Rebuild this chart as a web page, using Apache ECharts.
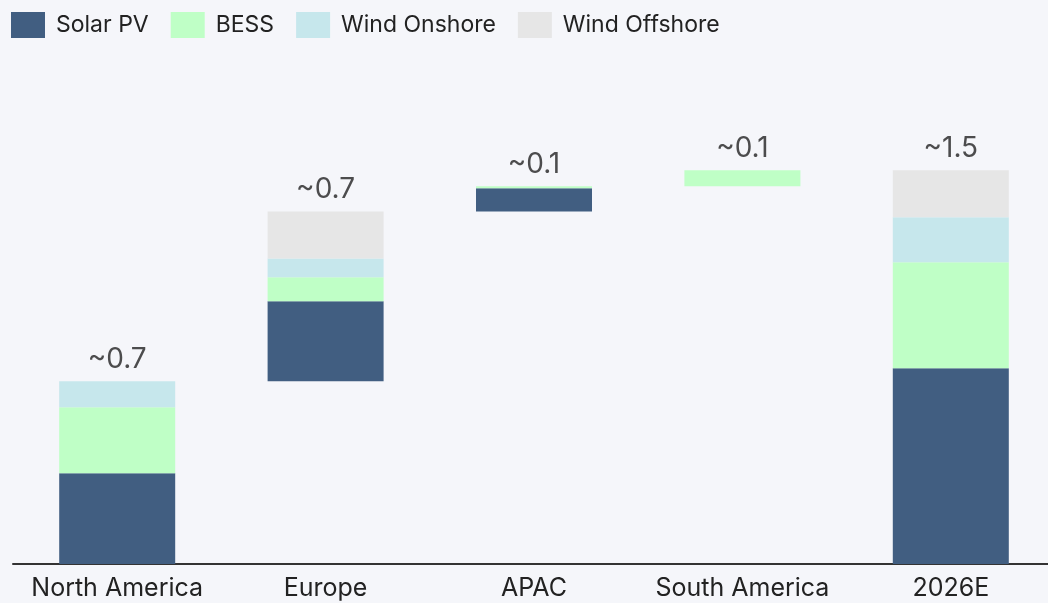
<!DOCTYPE html>
<html>
<head>
<meta charset="utf-8">
<script src="https://cdn.jsdelivr.net/npm/echarts@6/dist/echarts.min.js"></script>
<style>
  html, body { margin: 0; padding: 0; background: #f5f6fa; }
  #chart { width: 1048px; height: 603px; }
</style>
</head>
<body>
<div id="chart"></div>
<script>
var categories = ['North America', 'Europe', 'APAC', 'South America', '2026E'];
var solarPV = [0.346, 0.305, 0.088, 0, 0.746];
var bess = [0.251, 0.091, 0.008, 0.061, 0.404];
var windOnshore = [0.099, 0.072, 0, 0, 0.171];
var windOffshore = [0, 0.179, 0, 0, 0.179];
var totalLabels = ['~0.7', '~0.7', '~0.1', '~0.1', '~1.5'];

// waterfall: each region starts where the previous one ended, the last bar starts at 0
var totals = categories.map(function (c, i) {
    return solarPV[i] + bess[i] + windOnshore[i] + windOffshore[i];
});
var base = [];
var run = 0;
for (var i = 0; i < categories.length; i++) {
    if (i == categories.length - 1) {
        base.push(0);
    } else {
        base.push(run);
        run += totals[i];
    }
}
var tops = base.map(function (b, i) { return [categories[i], b + totals[i]]; });

var dom = document.getElementById('chart');
var myChart = echarts.init(dom);
var font = 'Inter, "Noto Sans", sans-serif';

option = {
    backgroundColor: '#f5f6fa',
    animation: false,
    legend: {
        left: 6,
        top: 7,
        itemWidth: 34,
        itemHeight: 26,
        itemGap: 22,
        icon: 'rect',
        data: ['Solar PV', 'BESS', 'Wind Onshore', 'Wind Offshore'],
        textStyle: { fontFamily: font, fontSize: 23, color: '#222', padding: [0, 0, 0, 6] }
    },
    grid: { left: 13, top: 39, bottom: 39, width: 1042, outerBoundsMode: 'none' },
    xAxis: {
        type: 'category',
        data: categories,
        axisLine: { lineStyle: { color: '#333', width: 2 } },
        axisTick: { show: false },
        axisLabel: { interval: 0, fontFamily: font, fontSize: 25, color: '#222', margin: 12 }
    },
    yAxis: { type: 'value', min: 0, max: 2, show: false, splitLine: { show: false } },
    series: [
        {
            name: 'base', type: 'bar', stack: 'w', barWidth: 116,
            itemStyle: { color: 'transparent' }, silent: true, data: base
        },
        { name: 'Solar PV', type: 'bar', stack: 'w', barWidth: 116, itemStyle: { color: '#415e81' }, data: solarPV },
        { name: 'BESS', type: 'bar', stack: 'w', barWidth: 116, itemStyle: { color: '#bfffc6' }, data: bess },
        { name: 'Wind Onshore', type: 'bar', stack: 'w', barWidth: 116, itemStyle: { color: '#c6e7ec' }, data: windOnshore },
        { name: 'Wind Offshore', type: 'bar', stack: 'w', barWidth: 116, itemStyle: { color: '#e6e6e6' }, data: windOffshore },
        {
            name: 'totals', type: 'scatter', symbolSize: 0, silent: true,
            data: tops,
            label: {
                show: true,
                position: 'top',
                distance: 8,
                fontFamily: font,
                fontSize: 28,
                color: '#222',
                formatter: function (p) { return totalLabels[p.dataIndex]; }
            }
        }
    ]
};

if (option && typeof option === "object") {
    myChart.setOption(option, true);
}
</script>
</body>
</html>
